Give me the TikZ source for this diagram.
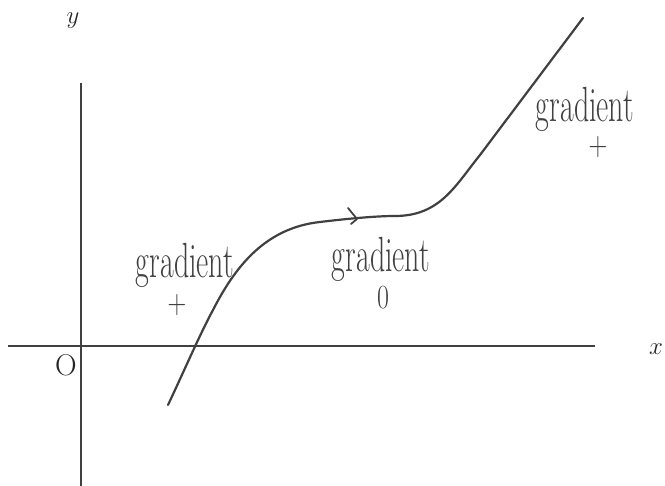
\documentclass[tikz,border=0pt]{standalone}
\usetikzlibrary{calc}
\definecolor{ink}{HTML}{404040}
\tikzset{
  axis/.style={draw=ink, line width=1.8pt},
  curveline/.style={draw=ink, line width=2.2pt, line cap=round},
  hand/.style={text=ink, font=\fontsize{26}{28}\selectfont, inner sep=0pt, yscale=1.9, xscale=1.15},
  sign/.style={text=ink, font=\fontsize{26}{28}\selectfont, inner sep=0pt, yscale=1.3},
  axlabel/.style={text=black!85, font=\fontsize{30}{32}\selectfont, inner sep=0pt}
}
\begin{document}
\begin{tikzpicture}[x=1pt,y=1pt]
\useasboundingbox (0,0) rectangle (665,486);
% axes
\coordinate (ytop) at (81,403);
\coordinate (ybot) at (81,0);
\coordinate (xl) at (8,140);
\coordinate (xr) at (595,140);
\draw[axis] (ybot) -- (ytop);
\draw[axis] (xl) -- (xr);
\node[axlabel] (ylab) at (73,465) {$y$};
\node[axlabel] (xlab) at (656,137) {$x$};
\node[axlabel] (olab) at (66,121) {O};
% curve
\draw[curveline] (168,81) .. controls (185,117) and (200,152) .. (213,176)
  .. controls (235,219) and (265,258) .. (320,264)
  .. controls (345,267) and (375,270) .. (395,270)
  .. controls (440,270) and (455,300) .. (480,331)
  -- (583,468);
% small tick mark at the stationary point
\draw[ink, line width=1.8pt, line cap=round, line join=round]
  (348,278) -- (357,267) -- (351,262);
% labels
\node[hand] (g1) at (185,221) {gradient};
\node[sign] (p1) at (177,181) {+};
\node[hand] (g2) at (381,227) {gradient};
\node[sign] (z2) at (383,188) {0};
\node[hand] (g3) at (585,377) {gradient};
\node[sign] (p3) at (598,339) {+};
\end{tikzpicture}
\end{document}
